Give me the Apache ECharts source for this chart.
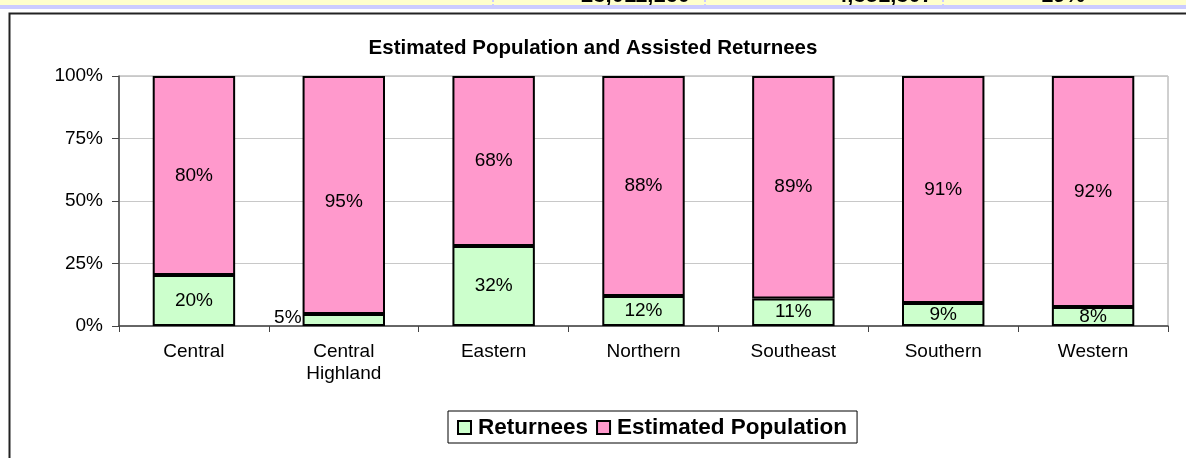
<!DOCTYPE html>
<html>
<head>
<meta charset="utf-8">
<script src="https://cdn.jsdelivr.net/npm/echarts@6/dist/echarts.min.js"></script>
<style>
  html, body { margin: 0; padding: 0; background: #fff; }
  #chart { width: 1186px; height: 458px; }
</style>
</head>
<body>
<div id="chart"></div>
<script>
var regions = ['Central', 'Central\nHighland', 'Eastern', 'Northern', 'Southeast', 'Southern', 'Western'];
var returnees = [20.4, 4.8, 32.0, 12.0, 11.0, 9.2, 7.6];
var population = [79.6, 95.2, 68.0, 88.0, 89.0, 90.8, 92.4];
var yTicks = [0, 25, 50, 75, 100];
// cut-off table row above the chart
var tableCells = ['23,011,160', '4,351,307', '19%'];

var font = 'Arial, "Liberation Sans", sans-serif';

function pct(p) { return Math.round(p.value) + '%'; }

var chart = echarts.init(document.getElementById('chart'));

var greenData = returnees.map(function (v, i) {
    if (i === 1) {
        return { value: v, label: { position: 'left', distance: 1, offset: [0, -2] } };
    }
    return v;
});
var pinkData = population.map(function (v, i) {
    if (i === 1) return { value: v, label: { offset: [0, 7] } };
    return v;
});

var option = {
    animation: false,
    backgroundColor: '#fff',
    title: {
        text: 'Estimated Population and Assisted Returnees',
        left: 'center',
        top: 33,
        textStyle: { fontFamily: font, fontSize: 20.5, fontWeight: 'bold', color: '#000' }
    },
    graphic: [
        { type: 'rect', shape: { x: 0, y: 0, width: 1186, height: 6 }, style: { fill: '#ffffcc' }, silent: true },
        { type: 'line', shape: { x1: 493, y1: 0, x2: 493, y2: 6 }, style: { stroke: '#ccccff', lineWidth: 2, lineDash: [2, 2] } },
        { type: 'line', shape: { x1: 705, y1: 0, x2: 705, y2: 6 }, style: { stroke: '#ccccff', lineWidth: 2, lineDash: [2, 2] } },
        { type: 'line', shape: { x1: 943, y1: 0, x2: 943, y2: 6 }, style: { stroke: '#ccccff', lineWidth: 2, lineDash: [2, 2] } },
        { type: 'text', x: 690, y: 7, style: { text: tableCells[0], align: 'right', verticalAlign: 'bottom', font: 'bold 22px ' + font, fill: '#000' } },
        { type: 'text', x: 933, y: 7, style: { text: tableCells[1], align: 'right', verticalAlign: 'bottom', font: 'bold 22px ' + font, fill: '#000' } },
        { type: 'text', x: 1085, y: 7, style: { text: tableCells[2], align: 'right', verticalAlign: 'bottom', font: 'bold 22px ' + font, fill: '#000' } },
        { type: 'rect', shape: { x: 0, y: 5, width: 1186, height: 4 }, style: { fill: '#ccccff' }, silent: true },
        { type: 'rect', shape: { x: 0, y: 9, width: 1186, height: 4 }, style: { fill: '#fff' }, silent: true },
        { type: 'rect', shape: { x: 9.5, y: 13.5, width: 1200, height: 470 }, style: { fill: 'none', stroke: '#222', lineWidth: 2 }, silent: true }
    ],
    legend: {
        left: 448,
        top: 411,
        padding: [5, 10, 4, 9],
        borderColor: '#000',
        borderWidth: 1,
        itemGap: 8,
        itemWidth: 13,
        itemHeight: 13,
        icon: 'rect',
        textStyle: { fontFamily: font, fontSize: 22.5, fontWeight: 'bold', color: '#000', padding: [0, 0, 0, 2] },
        data: ['Returnees', 'Estimated Population']
    },
    grid: {
        left: 119,
        right: 18,
        top: 76,
        bottom: 132,
        show: true,
        borderColor: '#a0a0a0',
        borderWidth: 1
    },
    xAxis: {
        type: 'category',
        data: regions,
        axisLine: { lineStyle: { color: '#444', width: 1.5 } },
        axisTick: { show: true, length: 6, lineStyle: { color: '#444' } },
        axisLabel: { fontFamily: font, fontSize: 19, color: '#000', margin: 15, lineHeight: 22 }
    },
    yAxis: {
        type: 'value',
        min: yTicks[0],
        max: yTicks[yTicks.length - 1],
        interval: 25,
        axisLine: { show: true, lineStyle: { color: '#444', width: 1.5 } },
        axisTick: { show: true, length: 7, lineStyle: { color: '#444' } },
        splitLine: { lineStyle: { color: '#c8c8c8' } },
        axisLabel: { fontFamily: font, fontSize: 19, color: '#000', margin: 16, formatter: '{value}%' }
    },
    series: [
        {
            name: 'Returnees',
            type: 'bar',
            stack: 'total',
            barWidth: '55%',
            itemStyle: { color: '#ccffcc', borderColor: '#000', borderWidth: 2 },
            label: { show: true, position: 'inside', fontFamily: font, fontSize: 19, color: '#000', formatter: pct },
            data: greenData
        },
        {
            name: 'Estimated Population',
            type: 'bar',
            stack: 'total',
            barWidth: '55%',
            itemStyle: { color: '#ff99cc', borderColor: '#000', borderWidth: 2 },
            label: { show: true, position: 'inside', fontFamily: font, fontSize: 19, color: '#000', formatter: pct },
            data: pinkData
        }
    ]
};

chart.setOption(option);
</script>
</body>
</html>
